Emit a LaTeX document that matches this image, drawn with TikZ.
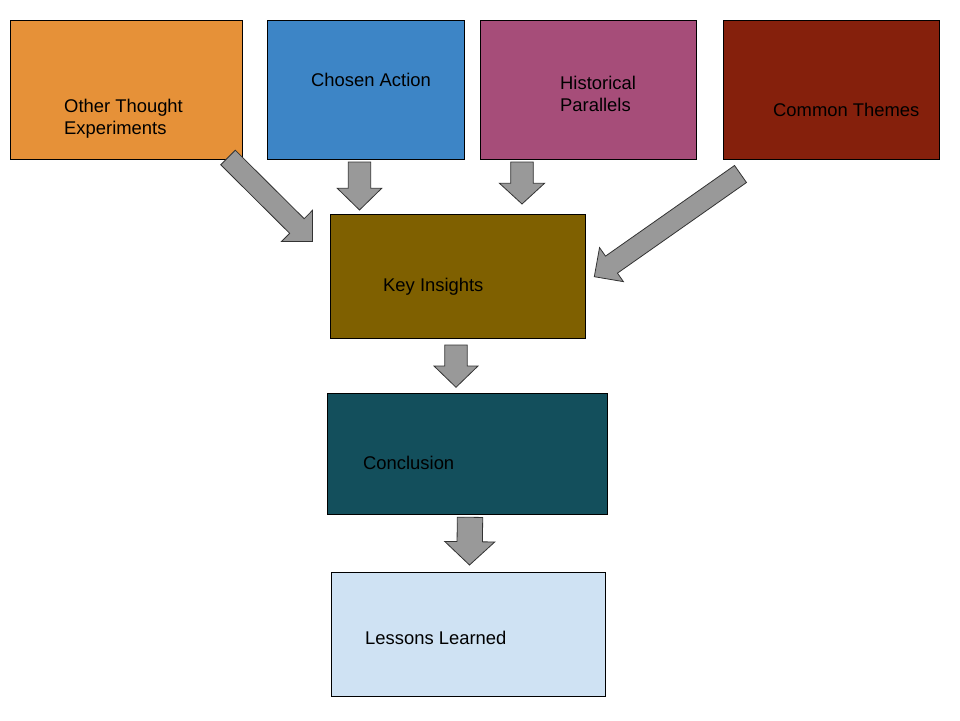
\documentclass[tikz,border=0pt]{standalone}
\usepackage{fontspec}
\setmainfont{Liberation Sans}
\usetikzlibrary{calc}
\definecolor{cOrange}{HTML}{E69138}
\definecolor{cBlue}{HTML}{3D85C6}
\definecolor{cMagenta}{HTML}{A64D79}
\definecolor{cBerry}{HTML}{85200C}
\definecolor{cOlive}{HTML}{7F6000}
\definecolor{cTeal}{HTML}{134F5C}
\definecolor{cLight}{HTML}{CFE2F3}
\definecolor{cArrow}{HTML}{999999}
\definecolor{cArrowLine}{HTML}{333333}
\tikzset{
  box/.style={draw=black, line width=0.8pt, rectangle, anchor=north west, inner sep=0pt},
  lbl/.style={anchor=base west, inner sep=0pt, align=left, text=black,
    font=\fontsize{18.4}{22}\selectfont},
  blockarrow/.style={fill=cArrow, draw=cArrowLine, line width=0.8pt, line join=miter},
}
% #1 start, #2 tip, #3 half shaft width, #4 half head width, #5 head length
\newcommand\blockarr[5]{%
  \coordinate (#1-hb) at ($(#2)!#5!(#1)$);
  \draw[blockarrow]
    ($(#1)!#3!90:(#2)$) -- ($(#1-hb)!#3!-90:(#1)$) -- ($(#1-hb)!#4!-90:(#1)$) --
    (#2) -- ($(#1-hb)!#4!90:(#1)$) -- ($(#1-hb)!#3!90:(#1)$) --
    ($(#1)!#3!-90:(#2)$) -- cycle;
}
\begin{document}
\begin{tikzpicture}[x=1pt,y=-1pt]
\useasboundingbox[fill=white] (0,0) rectangle (960,720);

% boxes
\node[box, fill=cOrange, minimum width=232pt, minimum height=139pt] (other) at (10,20) {};
\node[box, fill=cBlue, minimum width=197pt, minimum height=139pt] (chosen) at (267,20) {};
\node[box, fill=cMagenta, minimum width=216pt, minimum height=139pt] (hist) at (480,20) {};
\node[box, fill=cBerry, minimum width=216pt, minimum height=139pt] (common) at (723,20) {};
\node[box, fill=cOlive, minimum width=255pt, minimum height=124pt] (key) at (330,214) {};
\node[box, fill=cTeal, minimum width=280pt, minimum height=121pt] (concl) at (327,393) {};
\node[box, fill=cLight, minimum width=274pt, minimum height=124pt] (lessons) at (331,572) {};

% labels (anchor = baseline of the last line)
\node[lbl] (tother) at (64,134.3) {Other Thought\\Experiments};
\node[lbl] (tchosen) at (311,86.5) {Chosen Action};
\node[lbl] (thist) at (560,111.7) {Historical\\Parallels};
\node[lbl] (tcommon) at (773,116.7) {Common Themes};
\node[lbl] (tkey) at (383,291.7) {Key Insights};
\node[lbl] (tconcl) at (363,469.3) {Conclusion};
\node[lbl] (tlessons) at (365,644.3) {Lessons Learned};

% arrow end points
\coordinate (a1s) at (228,157.5);  \coordinate (a1t) at (312.5,241.5);
\coordinate (a2s) at (359.5,162);  \coordinate (a2t) at (359.5,210);
\coordinate (a3s) at (522,162);    \coordinate (a3t) at (522,204);
\coordinate (a4s) at (740.5,174);  \coordinate (a4t) at (594.3,276.7);
\coordinate (a5s) at (456,345);    \coordinate (a5t) at (456,387.3);
\coordinate (a6s) at (470,517.3);  \coordinate (a6t) at (469.5,565);

\blockarr{a1s}{a1t}{10.3pt}{22pt}{22pt}
\blockarr{a2s}{a2t}{11.2pt}{22.2pt}{21.7pt}
\blockarr{a3s}{a3t}{11.3pt}{22.5pt}{20.7pt}
\blockarr{a4s}{a4t}{10.4pt}{20.8pt}{21pt}
\blockarr{a5s}{a5t}{11.2pt}{22pt}{21.3pt}
\blockarr{a6s}{a6t}{12.7pt}{25pt}{23.3pt}
\end{tikzpicture}
\end{document}
